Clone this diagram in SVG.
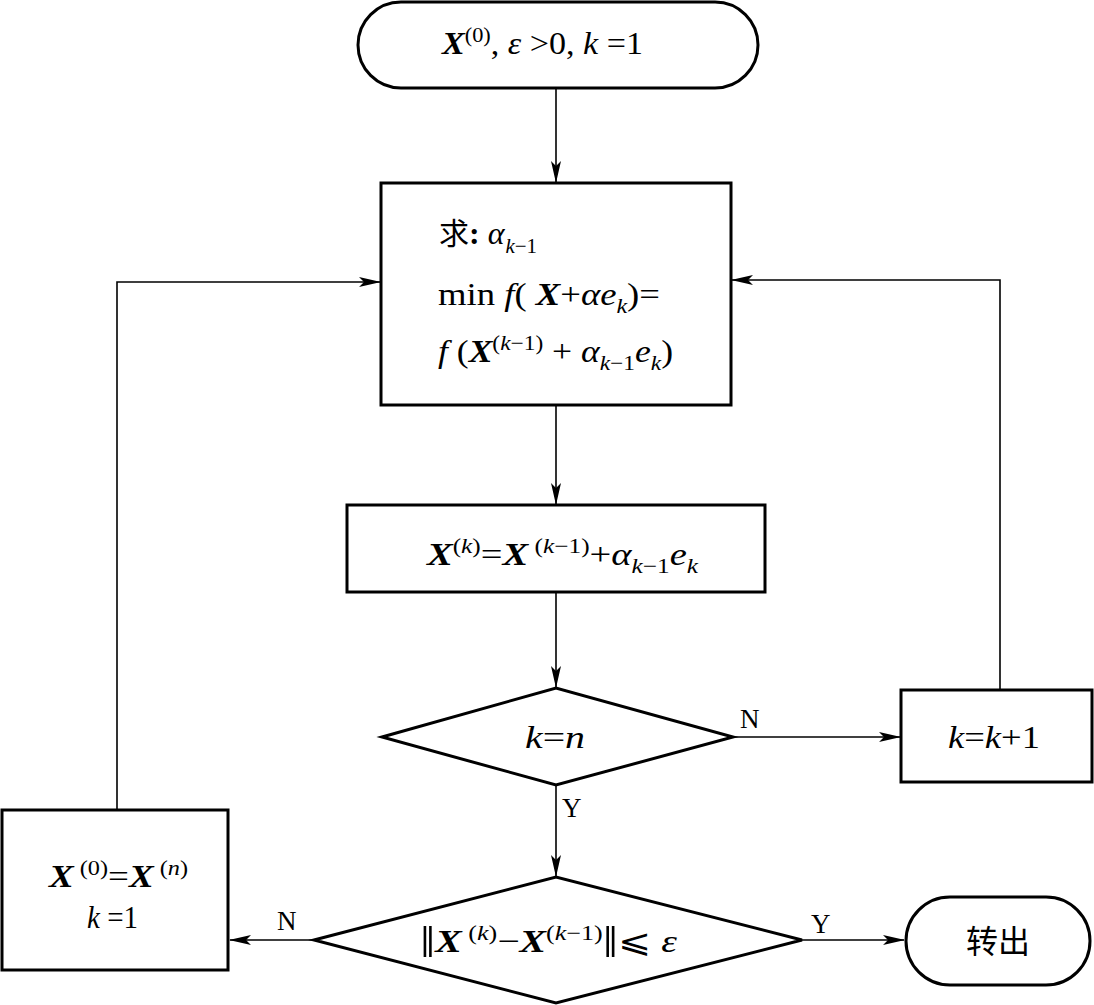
<svg xmlns="http://www.w3.org/2000/svg" width="1094" height="1005" viewBox="0 0 1094 1005" font-family="'Liberation Serif', 'Times New Roman', serif">
<style>
.n{fill:#fff;stroke:#000;stroke-width:3}
.c{fill:none;stroke:#000;stroke-width:1.6}
.t{font-family:'Liberation Serif','Times New Roman',serif;font-size:32px;fill:#000}
.i{font-style:italic}
.b{font-weight:bold;font-style:italic}
.s{font-size:21px}
.l{font-size:27px}
.cjk{font-family:'Noto Sans CJK SC',sans-serif}
.bar{font-size:44px}
</style>
<defs>
<marker id="a" markerWidth="22" markerHeight="10" refX="21" refY="5" orient="auto" markerUnits="userSpaceOnUse">
<path d="M0,0 L22,5 L0,10 L5,5 Z" fill="#000"/>
</marker>
</defs>
<rect width="1094" height="1005" fill="#fff"/>
<g id="connectors">
<line class="c" x1="556" y1="88" x2="556" y2="182" marker-end="url(#a)"/>
<line class="c" x1="556" y1="405" x2="556" y2="504" marker-end="url(#a)"/>
<line class="c" x1="556" y1="592" x2="556" y2="687" marker-end="url(#a)"/>
<line class="c" x1="733" y1="737" x2="900" y2="737" marker-end="url(#a)"/>
<polyline class="c" points="1000,690 1000,280 732,280" marker-end="url(#a)"/>
<line class="c" x1="556" y1="785" x2="556" y2="876" marker-end="url(#a)"/>
<line class="c" x1="802" y1="940" x2="904" y2="940" marker-end="url(#a)"/>
<line class="c" x1="314" y1="940" x2="230" y2="940" marker-end="url(#a)"/>
<polyline class="c" points="117,810 117,282 380,282" marker-end="url(#a)"/>
<text class="t l" x="740" y="728">N</text>
<text class="t l" x="562" y="817">Y</text>
<text class="t l" x="811" y="933">Y</text>
<text class="t l" x="277" y="930">N</text>
</g>
<g id="start">
<rect class="n" x="358" y="2" width="400" height="86" rx="43" ry="43"/>
<text class="t" x="442" y="54" textLength="201" lengthAdjust="spacingAndGlyphs"><tspan class="b">X</tspan><tspan class="s" dy="-12">(0)</tspan><tspan dy="12">, </tspan><tspan class="i">ε</tspan> &gt;0, <tspan class="i">k</tspan> =1</text>
</g>
<g id="search">
<rect class="n" x="381" y="183" width="350" height="222"/>
<text class="t" x="439" y="244"><tspan class="cjk" font-size="30">求</tspan><tspan font-weight="bold">:</tspan> <tspan class="i">α</tspan><tspan class="s i" dx="1" dy="9">k</tspan><tspan class="s">−1</tspan></text>
<text class="t" x="438" y="305" textLength="222" lengthAdjust="spacingAndGlyphs">min <tspan class="i">f</tspan>( <tspan class="b">X</tspan>+<tspan class="i">αe</tspan><tspan class="s i" dy="8">k</tspan><tspan dy="-8">)=</tspan></text>
<text class="t" x="438" y="362" textLength="235" lengthAdjust="spacingAndGlyphs"><tspan class="i">f</tspan> (<tspan class="b">X</tspan><tspan class="s" dy="-12">(<tspan class="i">k</tspan>−1)</tspan><tspan dy="12"> + </tspan><tspan class="i">α</tspan><tspan class="s" dy="8"><tspan class="i">k</tspan>−1</tspan><tspan class="i" dy="-8">e</tspan><tspan class="s i" dy="8">k</tspan><tspan dy="-8">)</tspan></text>
</g>
<g id="update">
<rect class="n" x="347" y="505" width="418" height="87"/>
<text class="t" x="427" y="565" textLength="271" lengthAdjust="spacingAndGlyphs"><tspan class="b">X</tspan><tspan class="s" dy="-12">(<tspan class="i">k</tspan>)</tspan><tspan dy="12">=</tspan><tspan class="b">X</tspan><tspan class="s" dy="-12"> (<tspan class="i">k</tspan>−1)</tspan><tspan dy="12">+</tspan><tspan class="i">α</tspan><tspan class="s" dy="8"><tspan class="i">k</tspan>−1</tspan><tspan class="i" dy="-8">e</tspan><tspan class="s i" dy="8">k</tspan></text>
</g>
<g id="check-k">
<polygon class="n" points="382,737 556,688 733,737 556,785"/>
<text class="t" x="525" y="748" textLength="60" lengthAdjust="spacingAndGlyphs"><tspan class="i">k</tspan>=<tspan class="i">n</tspan></text>
</g>
<g id="increment">
<rect class="n" x="901" y="690" width="191" height="92"/>
<text class="t" x="948" y="748" textLength="92" lengthAdjust="spacingAndGlyphs"><tspan class="i">k</tspan>=<tspan class="i">k</tspan>+1</text>
</g>
<g id="check-eps">
<polygon class="n" points="314,940 556,877 802,940 556,1003"/>
<text class="t" x="420" y="952" textLength="257" lengthAdjust="spacingAndGlyphs"><tspan class="bar" dy="5">‖</tspan><tspan class="b" dy="-5">X</tspan><tspan class="s" dy="-12"> (<tspan class="i">k</tspan>)</tspan><tspan dy="12">−</tspan><tspan class="b">X</tspan><tspan class="s" dy="-12">(<tspan class="i">k</tspan>−1)</tspan><tspan class="bar" dy="17">‖</tspan><tspan dy="-5">⩽</tspan> <tspan class="i">ε</tspan></text>
</g>
<g id="end">
<rect class="n" x="906" y="897" width="184" height="88" rx="44" ry="44"/>
<text class="t cjk" x="998" y="953" text-anchor="middle">转出</text>
</g>
<g id="reset">
<rect class="n" x="2" y="810" width="226" height="160"/>
<text class="t" x="49" y="887" textLength="139" lengthAdjust="spacingAndGlyphs"><tspan class="b">X</tspan><tspan class="s" dy="-12"> (0)</tspan><tspan dy="12">=</tspan><tspan class="b">X</tspan><tspan class="s" dy="-12"> (<tspan class="i">n</tspan>)</tspan></text>
<text class="t" x="87" y="928" textLength="51" lengthAdjust="spacingAndGlyphs"><tspan class="i">k</tspan> =1</text>
</g>
</svg>
